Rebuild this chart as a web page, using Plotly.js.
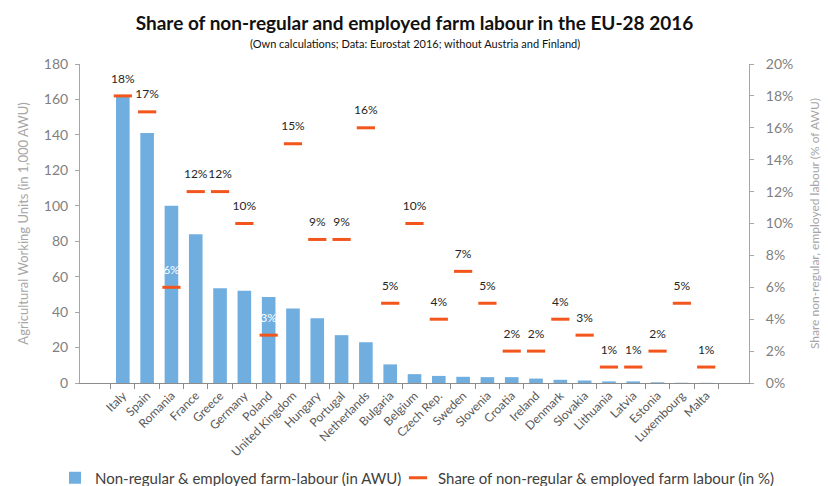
<!DOCTYPE html>
<html>
<head>
<meta charset="utf-8">
<script src="https://cdn.plot.ly/plotly-3.0.1.min.js"></script>
<style>html,body{margin:0;padding:0;background:#fff;}#chart{width:828px;height:486px;}</style>
</head>
<body>
<div id="chart"></div>
<script>
var countries = ["Italy","Spain","Romania","France","Greece","Germany","Poland","United Kingdom","Hungary","Portugal","Netherlands","Bulgaria","Belgium","Czech Rep.","Sweden","Slovenia","Croatia","Ireland","Denmark","Slovakia","Lithuania","Latvia","Estonia","Luxembourg","Malta"];
var awu = [162, 141, 100, 84, 53.5, 52, 48.5, 42, 36.5, 27, 23, 10.5, 5, 4, 3.5, 3.3, 3.3, 2.5, 1.8, 1.4, 0.9, 0.9, 0.4, 0.15, 0.1];
var sharePct = [18, 17, 6, 12, 12, 10, 3, 15, 9, 9, 16, 5, 10, 4, 7, 5, 2, 2, 4, 3, 1, 1, 2, 5, 1];
var labelColors = ["#262626","#262626","#ffffff","#262626","#262626","#262626","#ffffff","#262626","#262626","#262626","#262626","#262626","#262626","#262626","#262626","#262626","#262626","#262626","#262626","#262626","#262626","#262626","#262626","#262626","#262626"];

var share = sharePct.map(function(v){return v/100;});
var shareText = sharePct.map(function(v){return v + "%";});

var font = "Lato, 'Open Sans', sans-serif";
var blue = "#70AEE0";
var orange = "#F2561D";

var traces = [
  {
    type: "bar", x: countries, y: awu, name: "Non-regular & employed farm-labour (in AWU)",
    marker: {color: blue}, yaxis: "y", hoverinfo: "x+y", legend: "legend"
  },
  {
    type: "scatter", mode: "markers", x: countries, y: share, yaxis: "y2", legend: "legend2",
    name: "Share of non-regular & employed farm labour (in %)",
    marker: {symbol: "line-ew", size: 13, color: orange, line: {color: orange, width: 3}}
  },
  {
    type: "scatter", mode: "markers+text", x: countries, y: share, yaxis: "y2", showlegend: false,
    text: shareText, textposition: "top center",
    marker: {size: 15, opacity: 0},
    textfont: {family: font, size: 12, color: labelColors},
    hoverinfo: "skip"
  }
];

var legendBase = {
  orientation: "h", xanchor: "left", xref: "container",
  yref: "container", y: 1 - 478/486, yanchor: "middle",
  font: {size: 15, color: "#404040"}, bgcolor: "rgba(0,0,0,0)"
};

var layout = {
  width: 828, height: 486,
  margin: {l: 80, r: 79, t: 64, b: 103},
  paper_bgcolor: "#ffffff", plot_bgcolor: "#ffffff",
  font: {family: font, color: "#595959"},
  showlegend: true,
  bargap: 0.44,
  title: {
    text: "<b>Share of non-regular and employed farm labour in the EU-28 2016</b>",
    font: {family: font, size: 19, color: "#111111"},
    x: 0.5, xanchor: "center", xref: "paper", yref: "container", y: 1 - 23/486, yanchor: "middle"
  },
  annotations: [{
    text: "(Own calculations; Data: Eurostat 2016; without Austria and Finland)",
    xref: "paper", yref: "paper", x: 0.5, y: 1.063, xanchor: "center", yanchor: "middle",
    showarrow: false, font: {family: font, size: 11, color: "#111111"}
  }],
  xaxis: {
    type: "category", tickangle: -45, tickfont: {size: 12, color: "#595959"}, automargin: false,
    showline: true, linecolor: "#8c8c8c", linewidth: 1,
    ticks: "outside", tickson: "boundaries", ticklen: 5, tickcolor: "#8c8c8c",
    showgrid: false, zeroline: false
  },
  yaxis: {
    range: [0, 180], dtick: 20, tickfont: {size: 14, color: "#7f7f7f"}, automargin: false,
    showline: true, linecolor: "#a6a6a6", ticks: "outside", ticklen: 4, tickcolor: "#a6a6a6",
    ticklabelstandoff: 4,
    showgrid: false, zeroline: false,
    title: {text: "Agricultural Working Units (in 1,000 AWU)", font: {size: 13, color: "#a6a6a6"}, standoff: 12}
  },
  yaxis2: {
    overlaying: "y", side: "right", range: [0, 0.2], dtick: 0.02, tickformat: ".0%",
    tickfont: {size: 14, color: "#7f7f7f"}, automargin: false,
    showline: true, linecolor: "#a6a6a6", ticks: "outside", ticklen: 4, tickcolor: "#a6a6a6",
    ticklabelstandoff: 9,
    showgrid: false, zeroline: false,
    title: {text: "Share non-regular, employed labour (% of AWU)", font: {size: 12, color: "#a6a6a6"}, standoff: 18}
  },
  legend: Object.assign({}, legendBase, {x: 55/828}),
  legend2: Object.assign({}, legendBase, {x: 398/828})
};

Plotly.newPlot("chart", traces, layout, {displayModeBar: false, staticPlot: true});
</script>
</body>
</html>
